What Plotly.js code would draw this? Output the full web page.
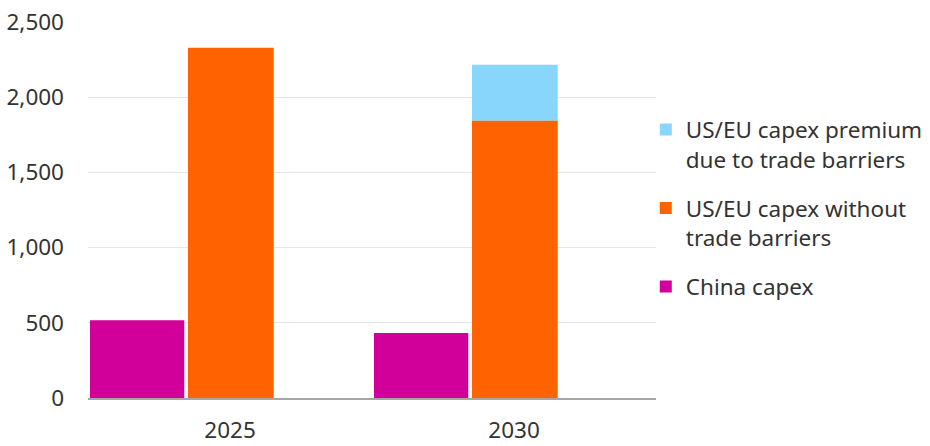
<!DOCTYPE html>
<html>
<head>
<meta charset="utf-8">
<script src="https://cdn.plot.ly/plotly-3.0.1.min.js"></script>
<style>
  html, body { margin: 0; padding: 0; background: #fff; }
  #plot { width: 930px; height: 446px; }
</style>
</head>
<body>
<div id="plot"></div>
<script>
let years = ['2025', '2030'];
let chinaCapex = [517, 433];
let usEuCapex = [2329, 1844];
let usEuPremium = [0, 371];
let yTicks = [0, 500, 1000, 1500, 2000, 2500];
let yTickText = ['0', '500', '1,000', '1,500', '2,000', '2,500'];

let textColor = '#333333';
let font = 'Noto Sans, Open Sans, sans-serif';
let fontSize = 22.5;

let premiumTrace = {
    x: years,
    y: usEuPremium,
    base: usEuCapex,
    type: 'bar',
    name: 'US/EU capex premium<br>due to trade barriers',
    legendgroup: 'a',
    offset: -0.148,
    width: 0.302,
    marker: {color: '#89D6FD'},
    hoverinfo: 'none'
};

let usEuTrace = {
    x: years,
    y: usEuCapex,
    type: 'bar',
    name: 'US/EU capex without<br>trade barriers',
    legendgroup: 'b',
    offset: -0.148,
    width: 0.302,
    marker: {color: '#FF6200'},
    hoverinfo: 'none'
};

let chinaTrace = {
    x: years,
    y: chinaCapex,
    type: 'bar',
    name: 'China capex',
    legendgroup: 'c',
    offset: -0.493,
    width: 0.332,
    marker: {color: '#D2009A'},
    hoverinfo: 'none'
};

let layout = {
    width: 930,
    height: 446,
    margin: {l: 88, r: 274, t: 22, b: 48, autoexpand: false},
    paper_bgcolor: '#ffffff',
    plot_bgcolor: '#ffffff',
    barmode: 'overlay',
    font: {family: font, size: fontSize, color: textColor},
    showlegend: true,
    legend: {
        x: 0.982,
        xanchor: 'left',
        y: 0.77,
        yanchor: 'top',
        valign: 'top',
        traceorder: 'grouped',
        tracegroupgap: 17,
        font: {family: font, size: fontSize, color: textColor},
        bgcolor: 'rgba(0,0,0,0)'
    },
    xaxis: {
        type: 'category',
        range: [-0.5, 1.5],
        showgrid: false,
        showline: true,
        linecolor: '#a6a6a6',
        linewidth: 1.5,
        ticks: '',
        ticklabelstandoff: 11,
        tickfont: {family: font, size: fontSize, color: textColor},
        fixedrange: true
    },
    yaxis: {
        range: [0, 2500],
        tickvals: yTicks,
        ticktext: yTickText,
        showgrid: true,
        gridcolor: '#e6e6e6',
        gridwidth: 1,
        zeroline: false,
        showline: false,
        ticks: '',
        ticklabelstandoff: 23,
        tickfont: {family: font, size: fontSize, color: textColor},
        fixedrange: true
    }
};

Plotly.newPlot('plot', [premiumTrace, usEuTrace, chinaTrace], layout, {displayModeBar: false, staticPlot: true});
</script>
</body>
</html>
